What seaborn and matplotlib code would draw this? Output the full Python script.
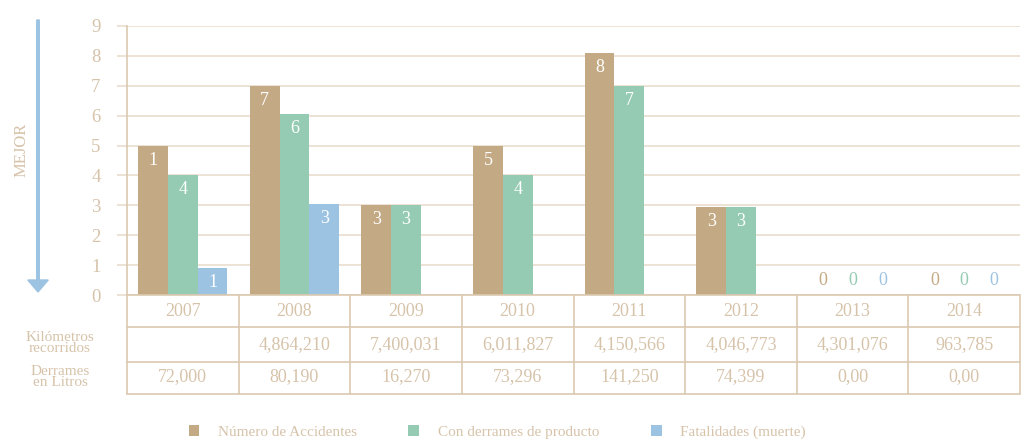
import matplotlib
matplotlib.use("Agg")
import matplotlib.pyplot as plt
from matplotlib.patches import Patch
import seaborn as sns
import pandas as pd
import numpy as np

# ---- data ----
years = ["2007", "2008", "2009", "2010", "2011", "2012", "2013", "2014"]
series = ["Número de Accidentes", "Con derrames de producto", "Fatalidades (muerte)"]
accidentes = [5, 7, 3, 5, 8.1, 2.95, 0, 0]
derrames = [4, 6.05, 3, 4, 7, 2.95, 0, 0]
fatalidades = [0.9, 3.05, 0, 0, 0, 0, 0, 0]
accidentes_labels = ["1", "7", "3", "5", "8", "3", "0", "0"]
derrames_labels = ["4", "6", "3", "4", "7", "3", "0", "0"]
fatalidades_labels = ["1", "3", "", "", "", "", "0", "0"]
km_recorridos = ["", "4,864,210", "7,400,031", "6,011,827", "4,150,566", "4,046,773", "4,301,076", "963,785"]
litros = ["72,000", "80,190", "16,270", "73,296", "141,250", "74,399", "0,00", "0,00"]
yticks = list(range(0, 10))

colors = ["#c4a985", "#95cbb3", "#9dc3e3"]
text_c = "#d6c3aa"
grid_c = "#e9ddcd"
line_c = "#dcc9b0"

sns.set_theme(style="white")
plt.rcParams["font.family"] = ["Liberation Serif", "DejaVu Serif"]

df = pd.DataFrame({
    "year": np.repeat(years, 3),
    "serie": series * len(years),
    "valor": np.ravel(np.column_stack([accidentes, derrames, fatalidades])),
})

fig = plt.figure(figsize=(10.24, 4.41), dpi=100)
ax = fig.add_axes([127 / 1024, 1 - 295 / 441, (1020 - 127) / 1024, (295 - 26) / 441])

sns.barplot(data=df, x="year", y="valor", hue="serie", order=years, hue_order=series,
            palette=colors, width=0.8, saturation=1, ax=ax, legend=False, errorbar=None,
            linewidth=0, edgecolor="none")

ax.set_xlim(-0.5, len(years) - 0.5)
ax.set_ylim(0, 9)
ax.set_yticks(yticks)
ax.set_yticklabels([str(t) for t in yticks])
ax.set_xlabel("")
ax.set_ylabel("")
ax.set_xticks([])
ax.yaxis.grid(True, color=grid_c, linewidth=1.2)
ax.set_axisbelow(True)
for s in ["top", "right", "bottom"]:
    ax.spines[s].set_visible(False)
ax.spines["left"].set_color(line_c)
ax.spines["left"].set_linewidth(1.2)
ax.tick_params(axis="y", length=7, width=1.2, color=grid_c, pad=12, labelsize=13.5,
               labelcolor=text_c, left=True)

# data labels
all_labels = [accidentes_labels, derrames_labels, fatalidades_labels]
for ci, cont in enumerate(ax.containers):
    for bi, bar in enumerate(cont):
        lab = all_labels[ci][bi]
        if not lab:
            continue
        cx = bar.get_x() + bar.get_width() / 2
        h = bar.get_height()
        if h > 0:
            ax.text(cx, h - 0.2, lab, ha="center", va="top", color="white", fontsize=13)
        else:
            ax.text(cx, 0.2, lab, ha="center", va="bottom", color=colors[ci], fontsize=13)

# table below
tr = ax.get_xaxis_transform()
row_y = [0, -32 / 269, -67 / 269, -99 / 269]
for y in row_y:
    ax.plot([-0.5, len(years) - 0.5], [y, y], transform=tr, color=line_c, lw=1.2, clip_on=False)
for i in range(len(years) + 1):
    ax.plot([i - 0.5, i - 0.5], [0, row_y[-1]], transform=tr, color=line_c, lw=1.2, clip_on=False)
row_c = [-16 / 269, -50 / 269, -82 / 269]
for i in range(len(years)):
    ax.text(i, row_c[0], years[i], transform=tr, ha="center", va="center", color=text_c, fontsize=13)
    ax.text(i, row_c[1], km_recorridos[i], transform=tr, ha="center", va="center", color=text_c, fontsize=13)
    ax.text(i, row_c[2], litros[i], transform=tr, ha="center", va="center", color=text_c, fontsize=13)

fig.text(60 / 1024, 1 - 343 / 441, "Kilómetros\nrecorridos", ha="center", va="center",
         color=text_c, fontsize=11, linespacing=0.85)
fig.text(60 / 1024, 1 - 377 / 441, "Derrames\nen Litros", ha="center", va="center",
         color=text_c, fontsize=11, linespacing=0.85)

# MEJOR arrow
fig.patches.append(matplotlib.patches.FancyArrow(
    38 / 1024, 1 - 20 / 441, 0, -(272 / 441), width=0.0025, head_width=0.02,
    head_length=12 / 441, length_includes_head=True, color=colors[2],
    transform=fig.transFigure, figure=fig))
fig.text(22 / 1024, 1 - 150 / 441, "MEJOR", rotation=90, ha="center", va="center",
         color=text_c, fontsize=12)

handles = [Patch(facecolor=c, edgecolor="none") for c in colors]
fig.legend(handles, series, loc="center", bbox_to_anchor=(497 / 1024, 1 - 432 / 441), ncol=3,
           frameon=False, handlelength=0.7, handleheight=0.7, handletextpad=1.2,
           columnspacing=3.4, fontsize=11, labelcolor=text_c)

fig.savefig("out.png", dpi=100)
